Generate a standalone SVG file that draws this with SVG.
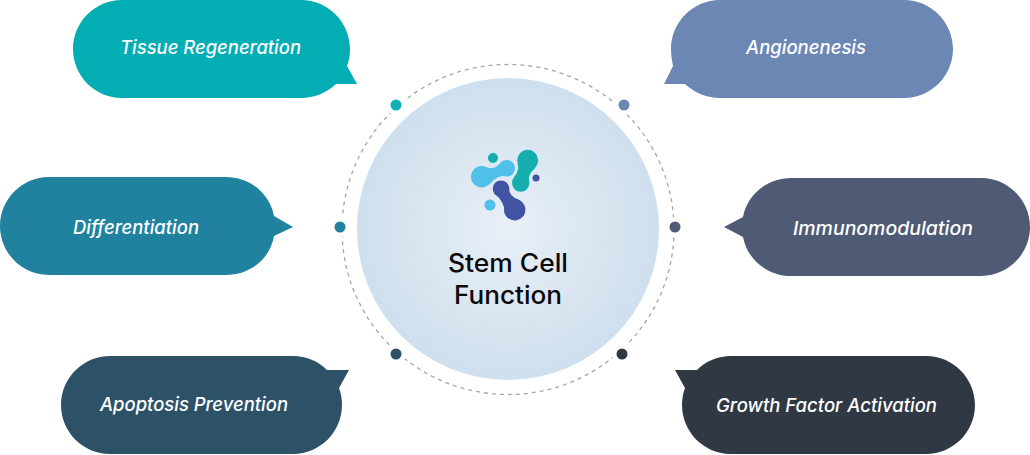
<svg xmlns="http://www.w3.org/2000/svg" width="1030" height="455" viewBox="0 0 1030 455">
  <style>
    .label { font-family: "Inter", "Open Sans", sans-serif; font-style: italic; font-weight: 500; font-size: 18.5px; fill: #ffffff; }
    .title { font-family: "Inter", "Open Sans", sans-serif; font-weight: 500; font-size: 25px; fill: #0a0a0a; text-anchor: middle; }
    .dot { stroke: #ffffff; stroke-width: 9; paint-order: stroke; }
  </style>
  <defs>
    <radialGradient id="disc" cx="0.5" cy="0.5" r="0.5">
      <stop offset="0" stop-color="#e9eff7"/>
      <stop offset="1" stop-color="#cedfed"/>
    </radialGradient>
  </defs>
  <rect width="1030" height="455" fill="#ffffff"/>

  <g id="connectors">
    <ellipse cx="508" cy="229.5" rx="166" ry="165" fill="none" stroke="#a6a6a6" stroke-width="1.300" stroke-dasharray="4 4"/>
    <circle class="dot" cx="396" cy="105" r="5.500" fill="#0fb0b5"/>
    <circle class="dot" cx="624" cy="105" r="5.500" fill="#6c87b4"/>
    <circle class="dot" cx="340" cy="227" r="5.500" fill="#21829f"/>
    <circle class="dot" cx="675" cy="227" r="5.500" fill="#4f5a74"/>
    <circle class="dot" cx="396" cy="354" r="5.500" fill="#2d5268"/>
    <circle class="dot" cx="622" cy="354" r="5.500" fill="#2f3843"/>
  </g>

  <g id="center">
    <circle cx="508" cy="229" r="151" fill="url(#disc)"/>
    <g id="cell-logo">
      <g fill="#4fc0ea">
        <circle cx="481.700" cy="176.700" r="10.700"/>
        <circle cx="506.700" cy="168.300" r="8.300"/>
        <path d="M486 167Q494 171 502 161.500L511 175.500Q498 174 489 184.500Z"/>
      </g>
      <g fill="#14aeae">
        <circle cx="527.700" cy="160.300" r="10.500"/>
        <circle cx="520.700" cy="183" r="8.700"/>
        <path d="M517.500 163Q520 170 514 177L529 186Q526 176 535.500 167.500Z"/>
      </g>
      <g fill="#4353a3">
        <circle cx="501" cy="188.700" r="8.300"/>
        <circle cx="514.700" cy="209.700" r="10.700"/>
        <path d="M509 186Q508 196 518.500 199.500L505 214Q505 202 494 193Z"/>
      </g>
      <circle cx="493" cy="158" r="5" fill="#14aeae"/>
      <circle cx="536" cy="178" r="3.500" fill="#4353a3"/>
      <circle cx="490" cy="205" r="5.500" fill="#4fc0ea"/>
    </g>
    <text class="title" x="508" y="272" textLength="120" lengthAdjust="spacingAndGlyphs">Stem Cell</text>
    <text class="title" x="508" y="304" textLength="108" lengthAdjust="spacingAndGlyphs">Function</text>
  </g>

  <g id="tissue-regeneration">
    <path fill="#02adb4" d="M122 0H301C328 0 350 22 350 49C350 55 349 61 347 66L357 84H336C326 93 314 98 301 98H122C95 98 73 76 73 49C73 22 95 0 122 0Z"/>
    <text class="label" x="120" y="54" textLength="181" lengthAdjust="spacingAndGlyphs">Tissue Regeneration</text>
  </g>

  <g id="differentiation">
    <path fill="#21829f" d="M49 177H226C250 177 270 194 274 216L293 227L274 236C270 259 250 275 226 275H49C22 275 0 253 0 226C0 199 22 177 49 177Z"/>
    <text class="label" x="73" y="234" textLength="126" lengthAdjust="spacingAndGlyphs">Differentiation</text>
  </g>

  <g id="apoptosis-prevention">
    <path fill="#2d5268" d="M110 356H293C306 356 318 361 327 370H349L339 388C341 393 342 399 342 405C342 432 320 454 293 454H110C83 454 61 432 61 405C61 378 83 356 110 356Z"/>
    <text class="label" x="100" y="411" textLength="188" lengthAdjust="spacingAndGlyphs">Apoptosis Prevention</text>
  </g>

  <g id="angionenesis">
    <path fill="#6c87b4" d="M720 0H904C931 0 953 22 953 49C953 76 931 98 904 98H720C707 98 695 93 685 84H664L673 66C672 61 671 55 671 49C671 22 693 0 720 0Z"/>
    <text class="label" x="746" y="54" textLength="120" lengthAdjust="spacingAndGlyphs">Angionenesis</text>
  </g>

  <g id="immunomodulation">
    <path fill="#4f5a74" d="M791 178H981C1008 178 1030 200 1030 227C1030 254 1008 276 981 276H791C767 276 747 259 743 237L724 227L743 217C747 195 767 178 791 178Z"/>
    <text class="label" x="793" y="235" textLength="180" lengthAdjust="spacingAndGlyphs">Immunomodulation</text>
  </g>

  <g id="growth-factor-activation">
    <path fill="#2f3843" d="M731 356H926C953 356 975 378 975 405C975 432 953 454 926 454H731C704 454 682 432 682 405C682 399 683 393 685 388L675 370H697C706 361 718 356 731 356Z"/>
    <text class="label" x="716" y="412" textLength="221" lengthAdjust="spacingAndGlyphs">Growth Factor Activation</text>
  </g>
</svg>
